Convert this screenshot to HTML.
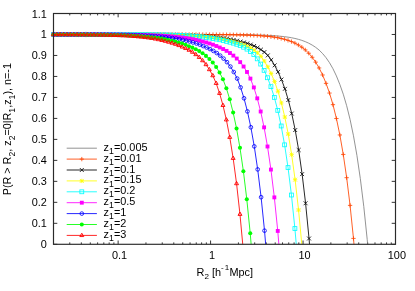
<!DOCTYPE html>
<html><head><meta charset="utf-8"><title>plot</title>
<style>
html,body{margin:0;padding:0;background:#fff;}
body{width:415px;height:291px;overflow:hidden;font-family:"Liberation Sans",sans-serif;}
svg{display:block;}
</style></head><body>
<svg width="415" height="291" viewBox="0 0 415 291" font-family="'Liberation Sans', sans-serif" font-size="10.2" fill="#000">
<rect width="415" height="291" fill="#fff"/>
<defs><filter id="b" x="0" y="0" width="415" height="291" filterUnits="userSpaceOnUse"><feGaussianBlur stdDeviation="0.5"/></filter></defs>
<g filter="url(#b)">
<path d="M53.5 244.3h3.8M395.5 244.3h-3.8M53.5 223.32h3.8M395.5 223.32h-3.8M53.5 202.34h3.8M395.5 202.34h-3.8M53.5 181.35h3.8M395.5 181.35h-3.8M53.5 160.37h3.8M395.5 160.37h-3.8M53.5 139.39h3.8M395.5 139.39h-3.8M53.5 118.41h3.8M395.5 118.41h-3.8M53.5 97.43h3.8M395.5 97.43h-3.8M53.5 76.45h3.8M395.5 76.45h-3.8M53.5 55.46h3.8M395.5 55.46h-3.8M53.5 34.48h3.8M395.5 34.48h-3.8M53.5 13.5h3.8M395.5 13.5h-3.8M53.5 244.3v-1.9M53.5 13.5v1.9M69.78 244.3v-1.9M69.78 13.5v1.9M81.33 244.3v-1.9M81.33 13.5v1.9M90.29 244.3v-1.9M90.29 13.5v1.9M97.61 244.3v-1.9M97.61 13.5v1.9M103.8 244.3v-1.9M103.8 13.5v1.9M109.17 244.3v-1.9M109.17 13.5v1.9M113.89 244.3v-1.9M113.89 13.5v1.9M118.13 244.3v-3.8M118.13 13.5v3.8M145.96 244.3v-1.9M145.96 13.5v1.9M162.24 244.3v-1.9M162.24 13.5v1.9M173.79 244.3v-1.9M173.79 13.5v1.9M182.75 244.3v-1.9M182.75 13.5v1.9M190.07 244.3v-1.9M190.07 13.5v1.9M196.26 244.3v-1.9M196.26 13.5v1.9M201.62 244.3v-1.9M201.62 13.5v1.9M206.35 244.3v-1.9M206.35 13.5v1.9M210.58 244.3v-3.8M210.58 13.5v3.8M238.42 244.3v-1.9M238.42 13.5v1.9M254.7 244.3v-1.9M254.7 13.5v1.9M266.25 244.3v-1.9M266.25 13.5v1.9M275.21 244.3v-1.9M275.21 13.5v1.9M282.53 244.3v-1.9M282.53 13.5v1.9M288.72 244.3v-1.9M288.72 13.5v1.9M294.08 244.3v-1.9M294.08 13.5v1.9M298.81 244.3v-1.9M298.81 13.5v1.9M303.04 244.3v-3.8M303.04 13.5v3.8M330.87 244.3v-1.9M330.87 13.5v1.9M347.16 244.3v-1.9M347.16 13.5v1.9M358.71 244.3v-1.9M358.71 13.5v1.9M367.67 244.3v-1.9M367.67 13.5v1.9M374.99 244.3v-1.9M374.99 13.5v1.9M381.18 244.3v-1.9M381.18 13.5v1.9M386.54 244.3v-1.9M386.54 13.5v1.9M391.27 244.3v-1.9M391.27 13.5v1.9M395.5 244.3v-3.8M395.5 13.5v3.8" stroke="#000" stroke-width="0.8" fill="none"/>
<clipPath id="c"><rect x="53.5" y="13.5" width="342" height="231.1"/></clipPath>
<path d="M53.5 34.48L56.89 34.48L60.27 34.48L63.66 34.48L67.04 34.48L70.43 34.48L73.82 34.48L77.2 34.48L80.59 34.48L83.98 34.48L87.36 34.48L90.75 34.48L94.13 34.48L97.52 34.48L100.91 34.48L104.29 34.48L107.68 34.48L111.07 34.48L114.46 34.48L117.86 34.48L121.26 34.48L124.65 34.48L128.05 34.48L131.45 34.48L134.85 34.48L138.24 34.48L141.64 34.48L145.04 34.48L148.43 34.48L151.83 34.48L155.23 34.48L158.62 34.48L162.02 34.48L165.42 34.49L168.81 34.49L172.21 34.49L175.61 34.49L179 34.49L182.4 34.49L185.8 34.49L189.19 34.49L192.59 34.5L195.99 34.5L199.38 34.5L202.78 34.51L206.18 34.51L209.58 34.52L212.97 34.53L216.37 34.53L219.77 34.55L223.16 34.56L226.56 34.57L229.96 34.59L233.35 34.62L236.75 34.64L240.16 34.68L243.58 34.72L247 34.76L250.42 34.82L253.84 34.89L257.25 34.98L260.67 35.08L264.09 35.2L267.51 35.35L270.93 35.53L274.34 35.74L277.76 36L281.18 36.32L284.6 36.7L288.02 37.15L291.44 37.73L294.9 38.45L298.36 39.32L301.82 40.37L305.28 41.65L308.74 43.2L312.2 45.08L315.66 47.34L319.12 50.07L322.58 53.52L326.04 57.69L329.5 62.71L332.96 68.73L336.42 75.95L339.85 84.49L343.26 94.18L346.66 105.72L350.07 119.45L353.48 135.79L356.91 155.35L360.34 178.66L363.77 206.4L367.2 239.38L367.63 244.3" stroke="#808080" stroke-width="0.85" fill="none" stroke-linejoin="round"/>

<path d="M53.5 34.48L56.89 34.48L60.27 34.48L63.66 34.48L67.04 34.48L70.43 34.48L73.82 34.48L77.2 34.48L80.59 34.48L83.98 34.48L87.36 34.48L90.75 34.48L94.13 34.48L97.52 34.48L100.91 34.48L104.29 34.48L107.68 34.48L111.07 34.48L114.46 34.48L117.86 34.48L121.26 34.48L124.65 34.48L128.05 34.48L131.45 34.48L134.85 34.48L138.24 34.48L141.64 34.48L145.04 34.48L148.43 34.48L151.83 34.49L155.23 34.49L158.62 34.49L162.02 34.49L165.42 34.49L168.81 34.49L172.21 34.49L175.61 34.49L179 34.5L182.4 34.5L185.8 34.5L189.19 34.51L192.59 34.51L195.99 34.52L199.38 34.53L202.78 34.53L206.18 34.55L209.58 34.56L212.97 34.57L216.37 34.59L219.77 34.62L223.16 34.64L226.56 34.68L229.96 34.72L233.35 34.76L236.75 34.82L240.16 34.89L243.58 34.98L247 35.08L250.42 35.2L253.84 35.35L257.25 35.53L260.67 35.74L264.09 36L267.51 36.31L270.93 36.69L274.34 37.15L277.76 37.72L281.18 38.43L284.6 39.28L288.02 40.32L291.44 41.57L294.9 43.1L298.36 44.96L301.82 47.2L305.28 49.9L308.74 53.24L312.2 57.27L315.66 62.13L319.12 67.97L322.58 74.97L326.04 83.35L329.5 93.05L332.96 104.65L336.42 118.52L339.85 134.96L343.26 154.44L346.66 177.68L350.07 205.38L353.48 238.4L353.99 244.3" stroke="#ff4500" stroke-width="0.85" fill="none" stroke-linejoin="round"/>
<path d="M51.35 34.48H55.65M53.5 32.33V36.63" stroke="#ff4500" stroke-width="0.82" fill="none"/><path d="M54.74 34.48H59.04M56.89 32.33V36.63" stroke="#ff4500" stroke-width="0.82" fill="none"/><path d="M58.12 34.48H62.42M60.27 32.33V36.63" stroke="#ff4500" stroke-width="0.82" fill="none"/><path d="M61.51 34.48H65.81M63.66 32.33V36.63" stroke="#ff4500" stroke-width="0.82" fill="none"/><path d="M64.89 34.48H69.19M67.04 32.33V36.63" stroke="#ff4500" stroke-width="0.82" fill="none"/><path d="M68.28 34.48H72.58M70.43 32.33V36.63" stroke="#ff4500" stroke-width="0.82" fill="none"/><path d="M71.67 34.48H75.97M73.82 32.33V36.63" stroke="#ff4500" stroke-width="0.82" fill="none"/><path d="M75.05 34.48H79.35M77.2 32.33V36.63" stroke="#ff4500" stroke-width="0.82" fill="none"/><path d="M78.44 34.48H82.74M80.59 32.33V36.63" stroke="#ff4500" stroke-width="0.82" fill="none"/><path d="M81.83 34.48H86.13M83.98 32.33V36.63" stroke="#ff4500" stroke-width="0.82" fill="none"/><path d="M85.21 34.48H89.51M87.36 32.33V36.63" stroke="#ff4500" stroke-width="0.82" fill="none"/><path d="M88.6 34.48H92.9M90.75 32.33V36.63" stroke="#ff4500" stroke-width="0.82" fill="none"/><path d="M91.98 34.48H96.28M94.13 32.33V36.63" stroke="#ff4500" stroke-width="0.82" fill="none"/><path d="M95.37 34.48H99.67M97.52 32.33V36.63" stroke="#ff4500" stroke-width="0.82" fill="none"/><path d="M98.76 34.48H103.06M100.91 32.33V36.63" stroke="#ff4500" stroke-width="0.82" fill="none"/><path d="M102.14 34.48H106.44M104.29 32.33V36.63" stroke="#ff4500" stroke-width="0.82" fill="none"/><path d="M105.53 34.48H109.83M107.68 32.33V36.63" stroke="#ff4500" stroke-width="0.82" fill="none"/><path d="M108.92 34.48H113.22M111.07 32.33V36.63" stroke="#ff4500" stroke-width="0.82" fill="none"/><path d="M112.31 34.48H116.61M114.46 32.33V36.63" stroke="#ff4500" stroke-width="0.82" fill="none"/><path d="M115.71 34.48H120.01M117.86 32.33V36.63" stroke="#ff4500" stroke-width="0.82" fill="none"/><path d="M119.11 34.48H123.41M121.26 32.33V36.63" stroke="#ff4500" stroke-width="0.82" fill="none"/><path d="M122.5 34.48H126.8M124.65 32.33V36.63" stroke="#ff4500" stroke-width="0.82" fill="none"/><path d="M125.9 34.48H130.2M128.05 32.33V36.63" stroke="#ff4500" stroke-width="0.82" fill="none"/><path d="M129.3 34.48H133.6M131.45 32.33V36.63" stroke="#ff4500" stroke-width="0.82" fill="none"/><path d="M132.7 34.48H137M134.85 32.33V36.63" stroke="#ff4500" stroke-width="0.82" fill="none"/><path d="M136.09 34.48H140.39M138.24 32.33V36.63" stroke="#ff4500" stroke-width="0.82" fill="none"/><path d="M139.49 34.48H143.79M141.64 32.33V36.63" stroke="#ff4500" stroke-width="0.82" fill="none"/><path d="M142.89 34.48H147.19M145.04 32.33V36.63" stroke="#ff4500" stroke-width="0.82" fill="none"/><path d="M146.28 34.48H150.58M148.43 32.33V36.63" stroke="#ff4500" stroke-width="0.82" fill="none"/><path d="M149.68 34.49H153.98M151.83 32.34V36.64" stroke="#ff4500" stroke-width="0.82" fill="none"/><path d="M153.08 34.49H157.38M155.23 32.34V36.64" stroke="#ff4500" stroke-width="0.82" fill="none"/><path d="M156.47 34.49H160.77M158.62 32.34V36.64" stroke="#ff4500" stroke-width="0.82" fill="none"/><path d="M159.87 34.49H164.17M162.02 32.34V36.64" stroke="#ff4500" stroke-width="0.82" fill="none"/><path d="M163.27 34.49H167.57M165.42 32.34V36.64" stroke="#ff4500" stroke-width="0.82" fill="none"/><path d="M166.66 34.49H170.96M168.81 32.34V36.64" stroke="#ff4500" stroke-width="0.82" fill="none"/><path d="M170.06 34.49H174.36M172.21 32.34V36.64" stroke="#ff4500" stroke-width="0.82" fill="none"/><path d="M173.46 34.49H177.76M175.61 32.34V36.64" stroke="#ff4500" stroke-width="0.82" fill="none"/><path d="M176.85 34.5H181.15M179 32.35V36.65" stroke="#ff4500" stroke-width="0.82" fill="none"/><path d="M180.25 34.5H184.55M182.4 32.35V36.65" stroke="#ff4500" stroke-width="0.82" fill="none"/><path d="M183.65 34.5H187.95M185.8 32.35V36.65" stroke="#ff4500" stroke-width="0.82" fill="none"/><path d="M187.04 34.51H191.34M189.19 32.36V36.66" stroke="#ff4500" stroke-width="0.82" fill="none"/><path d="M190.44 34.51H194.74M192.59 32.36V36.66" stroke="#ff4500" stroke-width="0.82" fill="none"/><path d="M193.84 34.52H198.14M195.99 32.37V36.67" stroke="#ff4500" stroke-width="0.82" fill="none"/><path d="M197.23 34.53H201.53M199.38 32.38V36.68" stroke="#ff4500" stroke-width="0.82" fill="none"/><path d="M200.63 34.53H204.93M202.78 32.38V36.68" stroke="#ff4500" stroke-width="0.82" fill="none"/><path d="M204.03 34.55H208.33M206.18 32.4V36.7" stroke="#ff4500" stroke-width="0.82" fill="none"/><path d="M207.43 34.56H211.73M209.58 32.41V36.71" stroke="#ff4500" stroke-width="0.82" fill="none"/><path d="M210.82 34.57H215.12M212.97 32.42V36.72" stroke="#ff4500" stroke-width="0.82" fill="none"/><path d="M214.22 34.59H218.52M216.37 32.44V36.74" stroke="#ff4500" stroke-width="0.82" fill="none"/><path d="M217.62 34.62H221.92M219.77 32.47V36.77" stroke="#ff4500" stroke-width="0.82" fill="none"/><path d="M221.01 34.64H225.31M223.16 32.49V36.79" stroke="#ff4500" stroke-width="0.82" fill="none"/><path d="M224.41 34.68H228.71M226.56 32.53V36.83" stroke="#ff4500" stroke-width="0.82" fill="none"/><path d="M227.81 34.72H232.11M229.96 32.57V36.87" stroke="#ff4500" stroke-width="0.82" fill="none"/><path d="M231.2 34.76H235.5M233.35 32.61V36.91" stroke="#ff4500" stroke-width="0.82" fill="none"/><path d="M234.6 34.82H238.9M236.75 32.67V36.97" stroke="#ff4500" stroke-width="0.82" fill="none"/><path d="M238.01 34.89H242.31M240.16 32.74V37.04" stroke="#ff4500" stroke-width="0.82" fill="none"/><path d="M241.43 34.98H245.73M243.58 32.83V37.13" stroke="#ff4500" stroke-width="0.82" fill="none"/><path d="M244.85 35.08H249.15M247 32.93V37.23" stroke="#ff4500" stroke-width="0.82" fill="none"/><path d="M248.27 35.2H252.57M250.42 33.05V37.35" stroke="#ff4500" stroke-width="0.82" fill="none"/><path d="M251.69 35.35H255.99M253.84 33.2V37.5" stroke="#ff4500" stroke-width="0.82" fill="none"/><path d="M255.1 35.53H259.4M257.25 33.38V37.68" stroke="#ff4500" stroke-width="0.82" fill="none"/><path d="M258.52 35.74H262.82M260.67 33.59V37.89" stroke="#ff4500" stroke-width="0.82" fill="none"/><path d="M261.94 36H266.24M264.09 33.85V38.15" stroke="#ff4500" stroke-width="0.82" fill="none"/><path d="M265.36 36.31H269.66M267.51 34.16V38.46" stroke="#ff4500" stroke-width="0.82" fill="none"/><path d="M268.78 36.69H273.08M270.93 34.54V38.84" stroke="#ff4500" stroke-width="0.82" fill="none"/><path d="M272.19 37.15H276.49M274.34 35V39.3" stroke="#ff4500" stroke-width="0.82" fill="none"/><path d="M275.61 37.72H279.91M277.76 35.57V39.87" stroke="#ff4500" stroke-width="0.82" fill="none"/><path d="M279.03 38.43H283.33M281.18 36.28V40.58" stroke="#ff4500" stroke-width="0.82" fill="none"/><path d="M282.45 39.28H286.75M284.6 37.13V41.43" stroke="#ff4500" stroke-width="0.82" fill="none"/><path d="M285.87 40.32H290.17M288.02 38.17V42.47" stroke="#ff4500" stroke-width="0.82" fill="none"/><path d="M289.29 41.57H293.59M291.44 39.42V43.72" stroke="#ff4500" stroke-width="0.82" fill="none"/><path d="M292.75 43.1H297.05M294.9 40.95V45.25" stroke="#ff4500" stroke-width="0.82" fill="none"/><path d="M296.21 44.96H300.51M298.36 42.81V47.11" stroke="#ff4500" stroke-width="0.82" fill="none"/><path d="M299.67 47.2H303.97M301.82 45.05V49.35" stroke="#ff4500" stroke-width="0.82" fill="none"/><path d="M303.13 49.9H307.43M305.28 47.75V52.05" stroke="#ff4500" stroke-width="0.82" fill="none"/><path d="M306.59 53.24H310.89M308.74 51.09V55.39" stroke="#ff4500" stroke-width="0.82" fill="none"/><path d="M310.05 57.27H314.35M312.2 55.12V59.42" stroke="#ff4500" stroke-width="0.82" fill="none"/><path d="M313.51 62.13H317.81M315.66 59.98V64.28" stroke="#ff4500" stroke-width="0.82" fill="none"/><path d="M316.97 67.97H321.27M319.12 65.82V70.12" stroke="#ff4500" stroke-width="0.82" fill="none"/><path d="M320.43 74.97H324.73M322.58 72.82V77.12" stroke="#ff4500" stroke-width="0.82" fill="none"/><path d="M323.89 83.35H328.19M326.04 81.2V85.5" stroke="#ff4500" stroke-width="0.82" fill="none"/><path d="M327.35 93.05H331.65M329.5 90.9V95.2" stroke="#ff4500" stroke-width="0.82" fill="none"/><path d="M330.81 104.65H335.11M332.96 102.5V106.8" stroke="#ff4500" stroke-width="0.82" fill="none"/><path d="M334.27 118.52H338.57M336.42 116.37V120.67" stroke="#ff4500" stroke-width="0.82" fill="none"/><path d="M337.7 134.96H342M339.85 132.81V137.11" stroke="#ff4500" stroke-width="0.82" fill="none"/><path d="M341.11 154.44H345.41M343.26 152.29V156.59" stroke="#ff4500" stroke-width="0.82" fill="none"/><path d="M344.51 177.68H348.81M346.66 175.53V179.83" stroke="#ff4500" stroke-width="0.82" fill="none"/><path d="M347.92 205.38H352.22M350.07 203.23V207.53" stroke="#ff4500" stroke-width="0.82" fill="none"/><path d="M351.33 238.4H355.63M353.48 236.25V240.55" stroke="#ff4500" stroke-width="0.82" fill="none"/>
<path d="M53.8 34.48L57.19 34.48L60.57 34.48L63.96 34.48L67.34 34.48L70.73 34.49L74.12 34.49L77.5 34.49L80.89 34.49L84.28 34.49L87.66 34.49L91.05 34.49L94.43 34.49L97.82 34.49L101.21 34.5L104.59 34.5L107.98 34.5L111.37 34.5L114.76 34.51L118.16 34.51L121.56 34.52L124.95 34.52L128.35 34.53L131.75 34.54L135.15 34.55L138.54 34.56L141.94 34.57L145.34 34.59L148.73 34.61L152.13 34.63L155.53 34.66L158.92 34.69L162.32 34.72L165.72 34.76L169.11 34.81L172.51 34.86L175.91 34.92L179.3 34.99L182.7 35.07L186.1 35.16L189.49 35.27L192.89 35.4L196.29 35.55L199.68 35.72L203.08 35.92L206.48 36.16L209.88 36.43L213.27 36.75L216.67 37.13L220.07 37.57L223.46 38.08L226.86 38.68L230.26 39.27L233.65 39.92L237.05 40.68L240.46 41.57L243.88 42.42L247.3 43.4L250.72 44.56L254.14 45.95L257.55 47.6L260.97 49.63L264.39 52.08L267.81 55.41L271.23 59.91L274.64 65.34L278.06 71.86L281.48 79.55L284.9 88.84L288.32 100.03L291.74 113.56L295.2 130.06L298.66 150.01L302.12 174.13L305.58 203.27L309.04 238.5L309.51 244.3" stroke="#000000" stroke-width="0.85" fill="none" stroke-linejoin="round"/>
<path d="M51.86 32.55L55.73 36.42M51.86 36.42L55.73 32.55" stroke="#000000" stroke-width="0.82" fill="none"/><path d="M55.25 32.55L59.12 36.42M55.25 36.42L59.12 32.55" stroke="#000000" stroke-width="0.82" fill="none"/><path d="M58.64 32.55L62.51 36.42M58.64 36.42L62.51 32.55" stroke="#000000" stroke-width="0.82" fill="none"/><path d="M62.02 32.55L65.89 36.42M62.02 36.42L65.89 32.55" stroke="#000000" stroke-width="0.82" fill="none"/><path d="M65.41 32.55L69.28 36.42M65.41 36.42L69.28 32.55" stroke="#000000" stroke-width="0.82" fill="none"/><path d="M68.8 32.55L72.67 36.42M68.8 36.42L72.67 32.55" stroke="#000000" stroke-width="0.82" fill="none"/><path d="M72.18 32.55L76.05 36.42M72.18 36.42L76.05 32.55" stroke="#000000" stroke-width="0.82" fill="none"/><path d="M75.57 32.55L79.44 36.42M75.57 36.42L79.44 32.55" stroke="#000000" stroke-width="0.82" fill="none"/><path d="M78.95 32.55L82.82 36.42M78.95 36.42L82.82 32.55" stroke="#000000" stroke-width="0.82" fill="none"/><path d="M82.34 32.55L86.21 36.42M82.34 36.42L86.21 32.55" stroke="#000000" stroke-width="0.82" fill="none"/><path d="M85.73 32.55L89.6 36.42M85.73 36.42L89.6 32.55" stroke="#000000" stroke-width="0.82" fill="none"/><path d="M89.11 32.56L92.98 36.43M89.11 36.43L92.98 32.56" stroke="#000000" stroke-width="0.82" fill="none"/><path d="M92.5 32.56L96.37 36.43M92.5 36.43L96.37 32.56" stroke="#000000" stroke-width="0.82" fill="none"/><path d="M95.88 32.56L99.75 36.43M95.88 36.43L99.75 32.56" stroke="#000000" stroke-width="0.82" fill="none"/><path d="M99.27 32.56L103.14 36.43M99.27 36.43L103.14 32.56" stroke="#000000" stroke-width="0.82" fill="none"/><path d="M102.66 32.56L106.53 36.43M102.66 36.43L106.53 32.56" stroke="#000000" stroke-width="0.82" fill="none"/><path d="M106.04 32.57L109.91 36.44M106.04 36.44L109.91 32.57" stroke="#000000" stroke-width="0.82" fill="none"/><path d="M109.43 32.57L113.3 36.44M109.43 36.44L113.3 32.57" stroke="#000000" stroke-width="0.82" fill="none"/><path d="M112.83 32.57L116.7 36.44M112.83 36.44L116.7 32.57" stroke="#000000" stroke-width="0.82" fill="none"/><path d="M116.23 32.58L120.1 36.45M116.23 36.45L120.1 32.58" stroke="#000000" stroke-width="0.82" fill="none"/><path d="M119.62 32.58L123.49 36.45M119.62 36.45L123.49 32.58" stroke="#000000" stroke-width="0.82" fill="none"/><path d="M123.02 32.59L126.89 36.46M123.02 36.46L126.89 32.59" stroke="#000000" stroke-width="0.82" fill="none"/><path d="M126.42 32.6L130.29 36.47M126.42 36.47L130.29 32.6" stroke="#000000" stroke-width="0.82" fill="none"/><path d="M129.81 32.6L133.68 36.47M129.81 36.47L133.68 32.6" stroke="#000000" stroke-width="0.82" fill="none"/><path d="M133.21 32.61L137.08 36.48M133.21 36.48L137.08 32.61" stroke="#000000" stroke-width="0.82" fill="none"/><path d="M136.61 32.63L140.48 36.5M136.61 36.5L140.48 32.63" stroke="#000000" stroke-width="0.82" fill="none"/><path d="M140 32.64L143.87 36.51M140 36.51L143.87 32.64" stroke="#000000" stroke-width="0.82" fill="none"/><path d="M143.4 32.66L147.27 36.53M143.4 36.53L147.27 32.66" stroke="#000000" stroke-width="0.82" fill="none"/><path d="M146.8 32.67L150.67 36.54M146.8 36.54L150.67 32.67" stroke="#000000" stroke-width="0.82" fill="none"/><path d="M150.19 32.7L154.06 36.57M150.19 36.57L154.06 32.7" stroke="#000000" stroke-width="0.82" fill="none"/><path d="M153.59 32.72L157.46 36.59M153.59 36.59L157.46 32.72" stroke="#000000" stroke-width="0.82" fill="none"/><path d="M156.99 32.75L160.86 36.62M156.99 36.62L160.86 32.75" stroke="#000000" stroke-width="0.82" fill="none"/><path d="M160.38 32.78L164.25 36.65M160.38 36.65L164.25 32.78" stroke="#000000" stroke-width="0.82" fill="none"/><path d="M163.78 32.82L167.65 36.69M163.78 36.69L167.65 32.82" stroke="#000000" stroke-width="0.82" fill="none"/><path d="M167.18 32.87L171.05 36.74M167.18 36.74L171.05 32.87" stroke="#000000" stroke-width="0.82" fill="none"/><path d="M170.58 32.92L174.45 36.79M170.58 36.79L174.45 32.92" stroke="#000000" stroke-width="0.82" fill="none"/><path d="M173.97 32.98L177.84 36.85M173.97 36.85L177.84 32.98" stroke="#000000" stroke-width="0.82" fill="none"/><path d="M177.37 33.05L181.24 36.92M177.37 36.92L181.24 33.05" stroke="#000000" stroke-width="0.82" fill="none"/><path d="M180.77 33.13L184.64 37M180.77 37L184.64 33.13" stroke="#000000" stroke-width="0.82" fill="none"/><path d="M184.16 33.23L188.03 37.1M184.16 37.1L188.03 33.23" stroke="#000000" stroke-width="0.82" fill="none"/><path d="M187.56 33.34L191.43 37.21M187.56 37.21L191.43 33.34" stroke="#000000" stroke-width="0.82" fill="none"/><path d="M190.96 33.46L194.83 37.33M190.96 37.33L194.83 33.46" stroke="#000000" stroke-width="0.82" fill="none"/><path d="M194.35 33.61L198.22 37.48M194.35 37.48L198.22 33.61" stroke="#000000" stroke-width="0.82" fill="none"/><path d="M197.75 33.78L201.62 37.65M197.75 37.65L201.62 33.78" stroke="#000000" stroke-width="0.82" fill="none"/><path d="M201.15 33.99L205.02 37.86M201.15 37.86L205.02 33.99" stroke="#000000" stroke-width="0.82" fill="none"/><path d="M204.54 34.22L208.41 38.09M204.54 38.09L208.41 34.22" stroke="#000000" stroke-width="0.82" fill="none"/><path d="M207.94 34.5L211.81 38.37M207.94 38.37L211.81 34.5" stroke="#000000" stroke-width="0.82" fill="none"/><path d="M211.34 34.82L215.21 38.69M211.34 38.69L215.21 34.82" stroke="#000000" stroke-width="0.82" fill="none"/><path d="M214.73 35.19L218.6 39.06M214.73 39.06L218.6 35.19" stroke="#000000" stroke-width="0.82" fill="none"/><path d="M218.13 35.63L222 39.5M218.13 39.5L222 35.63" stroke="#000000" stroke-width="0.82" fill="none"/><path d="M221.53 36.14L225.4 40.01M221.53 40.01L225.4 36.14" stroke="#000000" stroke-width="0.82" fill="none"/><path d="M224.92 36.75L228.79 40.62M224.92 40.62L228.79 36.75" stroke="#000000" stroke-width="0.82" fill="none"/><path d="M228.32 37.34L232.19 41.21M228.32 41.21L232.19 37.34" stroke="#000000" stroke-width="0.82" fill="none"/><path d="M231.72 37.99L235.59 41.86M231.72 41.86L235.59 37.99" stroke="#000000" stroke-width="0.82" fill="none"/><path d="M235.11 38.75L238.98 42.62M235.11 42.62L238.98 38.75" stroke="#000000" stroke-width="0.82" fill="none"/><path d="M238.53 39.64L242.4 43.51M238.53 43.51L242.4 39.64" stroke="#000000" stroke-width="0.82" fill="none"/><path d="M241.95 40.48L245.82 44.35M241.95 44.35L245.82 40.48" stroke="#000000" stroke-width="0.82" fill="none"/><path d="M245.36 41.47L249.23 45.34M245.36 45.34L249.23 41.47" stroke="#000000" stroke-width="0.82" fill="none"/><path d="M248.78 42.63L252.65 46.5M248.78 46.5L252.65 42.63" stroke="#000000" stroke-width="0.82" fill="none"/><path d="M252.2 44.01L256.07 47.88M252.2 47.88L256.07 44.01" stroke="#000000" stroke-width="0.82" fill="none"/><path d="M255.62 45.66L259.49 49.53M255.62 49.53L259.49 45.66" stroke="#000000" stroke-width="0.82" fill="none"/><path d="M259.04 47.69L262.91 51.56M259.04 51.56L262.91 47.69" stroke="#000000" stroke-width="0.82" fill="none"/><path d="M262.46 50.15L266.33 54.02M262.46 54.02L266.33 50.15" stroke="#000000" stroke-width="0.82" fill="none"/><path d="M265.87 53.48L269.74 57.35M265.87 57.35L269.74 53.48" stroke="#000000" stroke-width="0.82" fill="none"/><path d="M269.29 57.97L273.16 61.84M269.29 61.84L273.16 57.97" stroke="#000000" stroke-width="0.82" fill="none"/><path d="M272.71 63.4L276.58 67.27M272.71 67.27L276.58 63.4" stroke="#000000" stroke-width="0.82" fill="none"/><path d="M276.13 69.92L280 73.79M276.13 73.79L280 69.92" stroke="#000000" stroke-width="0.82" fill="none"/><path d="M279.55 77.62L283.42 81.49M279.55 81.49L283.42 77.62" stroke="#000000" stroke-width="0.82" fill="none"/><path d="M282.96 86.9L286.83 90.77M282.96 90.77L286.83 86.9" stroke="#000000" stroke-width="0.82" fill="none"/><path d="M286.38 98.1L290.25 101.97M286.38 101.97L290.25 98.1" stroke="#000000" stroke-width="0.82" fill="none"/><path d="M289.81 111.62L293.68 115.49M289.81 115.49L293.68 111.62" stroke="#000000" stroke-width="0.82" fill="none"/><path d="M293.27 128.13L297.14 132M293.27 132L297.14 128.13" stroke="#000000" stroke-width="0.82" fill="none"/><path d="M296.73 148.08L300.6 151.95M296.73 151.95L300.6 148.08" stroke="#000000" stroke-width="0.82" fill="none"/><path d="M300.19 172.19L304.06 176.06M300.19 176.06L304.06 172.19" stroke="#000000" stroke-width="0.82" fill="none"/><path d="M303.65 201.34L307.52 205.21M303.65 205.21L307.52 201.34" stroke="#000000" stroke-width="0.82" fill="none"/><path d="M307.1 236.57L310.97 240.44M307.1 240.44L310.97 236.57" stroke="#000000" stroke-width="0.82" fill="none"/>
<path d="M53.7 34.48L57.09 34.48L60.47 34.48L63.86 34.49L67.24 34.49L70.63 34.49L74.02 34.49L77.4 34.49L80.79 34.49L84.18 34.49L87.56 34.49L90.95 34.49L94.33 34.5L97.72 34.5L101.11 34.5L104.49 34.51L107.88 34.51L111.27 34.51L114.66 34.52L118.06 34.53L121.46 34.53L124.85 34.54L128.25 34.55L131.65 34.56L135.05 34.58L138.44 34.59L141.84 34.61L145.24 34.64L148.63 34.66L152.03 34.69L155.43 34.73L158.82 34.77L162.22 34.82L165.62 34.87L169.01 34.93L172.41 35.01L175.81 35.09L179.2 35.19L182.6 35.3L186 35.43L189.39 35.59L192.79 35.77L196.19 35.98L199.58 36.22L202.98 36.51L206.38 36.84L209.78 37.23L213.17 37.69L216.57 38.22L219.97 38.84L223.36 39.42L226.76 40.1L230.16 40.89L233.55 41.77L236.95 42.63L240.36 43.65L243.78 44.87L247.2 46.31L250.62 48.02L254.04 50.16L257.45 52.73L260.87 56.39L264.29 61.08L267.71 66.76L271.13 73.52L274.54 81.56L277.96 91.26L281.38 102.96L284.8 117.06L288.22 134.07L291.64 154.62L295.1 179.69L298.56 210L301.8 244.3" stroke="#ffff00" stroke-width="0.85" fill="none" stroke-linejoin="round"/>
<path d="M51.55 34.48H55.85M53.7 32.33V36.63M51.77 32.55L55.64 36.42M51.77 36.42L55.64 32.55" stroke="#ffff00" stroke-width="0.82" fill="none"/><path d="M54.94 34.48H59.24M57.09 32.33V36.63M55.15 32.55L59.02 36.42M55.15 36.42L59.02 32.55" stroke="#ffff00" stroke-width="0.82" fill="none"/><path d="M58.32 34.48H62.62M60.47 32.33V36.63M58.54 32.55L62.41 36.42M58.54 36.42L62.41 32.55" stroke="#ffff00" stroke-width="0.82" fill="none"/><path d="M61.71 34.49H66.01M63.86 32.34V36.64M61.92 32.55L65.79 36.42M61.92 36.42L65.79 32.55" stroke="#ffff00" stroke-width="0.82" fill="none"/><path d="M65.09 34.49H69.39M67.24 32.34V36.64M65.31 32.55L69.18 36.42M65.31 36.42L69.18 32.55" stroke="#ffff00" stroke-width="0.82" fill="none"/><path d="M68.48 34.49H72.78M70.63 32.34V36.64M68.7 32.55L72.57 36.42M68.7 36.42L72.57 32.55" stroke="#ffff00" stroke-width="0.82" fill="none"/><path d="M71.87 34.49H76.17M74.02 32.34V36.64M72.08 32.55L75.95 36.42M72.08 36.42L75.95 32.55" stroke="#ffff00" stroke-width="0.82" fill="none"/><path d="M75.25 34.49H79.55M77.4 32.34V36.64M75.47 32.55L79.34 36.42M75.47 36.42L79.34 32.55" stroke="#ffff00" stroke-width="0.82" fill="none"/><path d="M78.64 34.49H82.94M80.79 32.34V36.64M78.85 32.55L82.72 36.42M78.85 36.42L82.72 32.55" stroke="#ffff00" stroke-width="0.82" fill="none"/><path d="M82.03 34.49H86.33M84.18 32.34V36.64M82.24 32.56L86.11 36.43M82.24 36.43L86.11 32.56" stroke="#ffff00" stroke-width="0.82" fill="none"/><path d="M85.41 34.49H89.71M87.56 32.34V36.64M85.63 32.56L89.5 36.43M85.63 36.43L89.5 32.56" stroke="#ffff00" stroke-width="0.82" fill="none"/><path d="M88.8 34.49H93.1M90.95 32.34V36.64M89.01 32.56L92.88 36.43M89.01 36.43L92.88 32.56" stroke="#ffff00" stroke-width="0.82" fill="none"/><path d="M92.18 34.5H96.48M94.33 32.35V36.65M92.4 32.56L96.27 36.43M92.4 36.43L96.27 32.56" stroke="#ffff00" stroke-width="0.82" fill="none"/><path d="M95.57 34.5H99.87M97.72 32.35V36.65M95.78 32.56L99.65 36.43M95.78 36.43L99.65 32.56" stroke="#ffff00" stroke-width="0.82" fill="none"/><path d="M98.96 34.5H103.26M101.11 32.35V36.65M99.17 32.57L103.04 36.44M99.17 36.44L103.04 32.57" stroke="#ffff00" stroke-width="0.82" fill="none"/><path d="M102.34 34.51H106.64M104.49 32.36V36.66M102.56 32.57L106.43 36.44M102.56 36.44L106.43 32.57" stroke="#ffff00" stroke-width="0.82" fill="none"/><path d="M105.73 34.51H110.03M107.88 32.36V36.66M105.94 32.57L109.81 36.44M105.94 36.44L109.81 32.57" stroke="#ffff00" stroke-width="0.82" fill="none"/><path d="M109.12 34.51H113.42M111.27 32.36V36.66M109.33 32.58L113.2 36.45M109.33 36.45L113.2 32.58" stroke="#ffff00" stroke-width="0.82" fill="none"/><path d="M112.51 34.52H116.81M114.66 32.37V36.67M112.73 32.58L116.6 36.45M112.73 36.45L116.6 32.58" stroke="#ffff00" stroke-width="0.82" fill="none"/><path d="M115.91 34.53H120.21M118.06 32.38V36.68M116.13 32.59L120 36.46M116.13 36.46L120 32.59" stroke="#ffff00" stroke-width="0.82" fill="none"/><path d="M119.31 34.53H123.61M121.46 32.38V36.68M119.52 32.6L123.39 36.47M119.52 36.47L123.39 32.6" stroke="#ffff00" stroke-width="0.82" fill="none"/><path d="M122.7 34.54H127M124.85 32.39V36.69M122.92 32.61L126.79 36.48M122.92 36.48L126.79 32.61" stroke="#ffff00" stroke-width="0.82" fill="none"/><path d="M126.1 34.55H130.4M128.25 32.4V36.7M126.32 32.62L130.19 36.49M126.32 36.49L130.19 32.62" stroke="#ffff00" stroke-width="0.82" fill="none"/><path d="M129.5 34.56H133.8M131.65 32.41V36.71M129.71 32.63L133.58 36.5M129.71 36.5L133.58 32.63" stroke="#ffff00" stroke-width="0.82" fill="none"/><path d="M132.9 34.58H137.2M135.05 32.43V36.73M133.11 32.64L136.98 36.51M133.11 36.51L136.98 32.64" stroke="#ffff00" stroke-width="0.82" fill="none"/><path d="M136.29 34.59H140.59M138.44 32.44V36.74M136.51 32.66L140.38 36.53M136.51 36.53L140.38 32.66" stroke="#ffff00" stroke-width="0.82" fill="none"/><path d="M139.69 34.61H143.99M141.84 32.46V36.76M139.9 32.68L143.77 36.55M139.9 36.55L143.77 32.68" stroke="#ffff00" stroke-width="0.82" fill="none"/><path d="M143.09 34.64H147.39M145.24 32.49V36.79M143.3 32.7L147.17 36.57M143.3 36.57L147.17 32.7" stroke="#ffff00" stroke-width="0.82" fill="none"/><path d="M146.48 34.66H150.78M148.63 32.51V36.81M146.7 32.73L150.57 36.6M146.7 36.6L150.57 32.73" stroke="#ffff00" stroke-width="0.82" fill="none"/><path d="M149.88 34.69H154.18M152.03 32.54V36.84M150.09 32.76L153.96 36.63M150.09 36.63L153.96 32.76" stroke="#ffff00" stroke-width="0.82" fill="none"/><path d="M153.28 34.73H157.58M155.43 32.58V36.88M153.49 32.79L157.36 36.66M153.49 36.66L157.36 32.79" stroke="#ffff00" stroke-width="0.82" fill="none"/><path d="M156.67 34.77H160.97M158.82 32.62V36.92M156.89 32.84L160.76 36.71M156.89 36.71L160.76 32.84" stroke="#ffff00" stroke-width="0.82" fill="none"/><path d="M160.07 34.82H164.37M162.22 32.67V36.97M160.28 32.88L164.15 36.75M160.28 36.75L164.15 32.88" stroke="#ffff00" stroke-width="0.82" fill="none"/><path d="M163.47 34.87H167.77M165.62 32.72V37.02M163.68 32.94L167.55 36.81M163.68 36.81L167.55 32.94" stroke="#ffff00" stroke-width="0.82" fill="none"/><path d="M166.86 34.93H171.16M169.01 32.78V37.08M167.08 33L170.95 36.87M167.08 36.87L170.95 33" stroke="#ffff00" stroke-width="0.82" fill="none"/><path d="M170.26 35.01H174.56M172.41 32.86V37.16M170.48 33.07L174.35 36.94M170.48 36.94L174.35 33.07" stroke="#ffff00" stroke-width="0.82" fill="none"/><path d="M173.66 35.09H177.96M175.81 32.94V37.24M173.87 33.15L177.74 37.02M173.87 37.02L177.74 33.15" stroke="#ffff00" stroke-width="0.82" fill="none"/><path d="M177.05 35.19H181.35M179.2 33.04V37.34M177.27 33.25L181.14 37.12M177.27 37.12L181.14 33.25" stroke="#ffff00" stroke-width="0.82" fill="none"/><path d="M180.45 35.3H184.75M182.6 33.15V37.45M180.67 33.36L184.54 37.23M180.67 37.23L184.54 33.36" stroke="#ffff00" stroke-width="0.82" fill="none"/><path d="M183.85 35.43H188.15M186 33.28V37.58M184.06 33.5L187.93 37.37M184.06 37.37L187.93 33.5" stroke="#ffff00" stroke-width="0.82" fill="none"/><path d="M187.24 35.59H191.54M189.39 33.44V37.74M187.46 33.65L191.33 37.52M187.46 37.52L191.33 33.65" stroke="#ffff00" stroke-width="0.82" fill="none"/><path d="M190.64 35.77H194.94M192.79 33.62V37.92M190.86 33.83L194.73 37.7M190.86 37.7L194.73 33.83" stroke="#ffff00" stroke-width="0.82" fill="none"/><path d="M194.04 35.98H198.34M196.19 33.83V38.13M194.25 34.04L198.12 37.91M194.25 37.91L198.12 34.04" stroke="#ffff00" stroke-width="0.82" fill="none"/><path d="M197.43 36.22H201.73M199.58 34.07V38.37M197.65 34.28L201.52 38.15M197.65 38.15L201.52 34.28" stroke="#ffff00" stroke-width="0.82" fill="none"/><path d="M200.83 36.51H205.13M202.98 34.36V38.66M201.05 34.57L204.92 38.44M201.05 38.44L204.92 34.57" stroke="#ffff00" stroke-width="0.82" fill="none"/><path d="M204.23 36.84H208.53M206.38 34.69V38.99M204.44 34.9L208.31 38.77M204.44 38.77L208.31 34.9" stroke="#ffff00" stroke-width="0.82" fill="none"/><path d="M207.63 37.23H211.93M209.78 35.08V39.38M207.84 35.29L211.71 39.16M207.84 39.16L211.71 35.29" stroke="#ffff00" stroke-width="0.82" fill="none"/><path d="M211.02 37.69H215.32M213.17 35.54V39.84M211.24 35.75L215.11 39.62M211.24 39.62L215.11 35.75" stroke="#ffff00" stroke-width="0.82" fill="none"/><path d="M214.42 38.22H218.72M216.57 36.07V40.37M214.63 36.28L218.5 40.15M214.63 40.15L218.5 36.28" stroke="#ffff00" stroke-width="0.82" fill="none"/><path d="M217.82 38.84H222.12M219.97 36.69V40.99M218.03 36.91L221.9 40.78M218.03 40.78L221.9 36.91" stroke="#ffff00" stroke-width="0.82" fill="none"/><path d="M221.21 39.42H225.51M223.36 37.27V41.57M221.43 37.49L225.3 41.36M221.43 41.36L225.3 37.49" stroke="#ffff00" stroke-width="0.82" fill="none"/><path d="M224.61 40.1H228.91M226.76 37.95V42.25M224.82 38.16L228.69 42.03M224.82 42.03L228.69 38.16" stroke="#ffff00" stroke-width="0.82" fill="none"/><path d="M228.01 40.89H232.31M230.16 38.74V43.04M228.22 38.95L232.09 42.82M228.22 42.82L232.09 38.95" stroke="#ffff00" stroke-width="0.82" fill="none"/><path d="M231.4 41.77H235.7M233.55 39.62V43.92M231.62 39.84L235.49 43.71M231.62 43.71L235.49 39.84" stroke="#ffff00" stroke-width="0.82" fill="none"/><path d="M234.8 42.63H239.1M236.95 40.48V44.78M235.01 40.7L238.88 44.57M235.01 44.57L238.88 40.7" stroke="#ffff00" stroke-width="0.82" fill="none"/><path d="M238.21 43.65H242.51M240.36 41.5V45.8M238.43 41.72L242.3 45.59M238.43 45.59L242.3 41.72" stroke="#ffff00" stroke-width="0.82" fill="none"/><path d="M241.63 44.87H245.93M243.78 42.72V47.02M241.85 42.93L245.72 46.8M241.85 46.8L245.72 42.93" stroke="#ffff00" stroke-width="0.82" fill="none"/><path d="M245.05 46.31H249.35M247.2 44.16V48.46M245.26 44.37L249.13 48.24M245.26 48.24L249.13 44.37" stroke="#ffff00" stroke-width="0.82" fill="none"/><path d="M248.47 48.02H252.77M250.62 45.87V50.17M248.68 46.09L252.55 49.96M248.68 49.96L252.55 46.09" stroke="#ffff00" stroke-width="0.82" fill="none"/><path d="M251.89 50.16H256.19M254.04 48.01V52.31M252.1 48.22L255.97 52.09M252.1 52.09L255.97 48.22" stroke="#ffff00" stroke-width="0.82" fill="none"/><path d="M255.3 52.73H259.6M257.45 50.58V54.88M255.52 50.79L259.39 54.66M255.52 54.66L259.39 50.79" stroke="#ffff00" stroke-width="0.82" fill="none"/><path d="M258.72 56.39H263.02M260.87 54.24V58.54M258.94 54.45L262.81 58.32M258.94 58.32L262.81 54.45" stroke="#ffff00" stroke-width="0.82" fill="none"/><path d="M262.14 61.08H266.44M264.29 58.93V63.23M262.36 59.15L266.23 63.02M262.36 63.02L266.23 59.15" stroke="#ffff00" stroke-width="0.82" fill="none"/><path d="M265.56 66.76H269.86M267.71 64.61V68.91M265.77 64.82L269.64 68.69M265.77 68.69L269.64 64.82" stroke="#ffff00" stroke-width="0.82" fill="none"/><path d="M268.98 73.52H273.28M271.13 71.37V75.67M269.19 71.59L273.06 75.46M269.19 75.46L273.06 71.59" stroke="#ffff00" stroke-width="0.82" fill="none"/><path d="M272.39 81.56H276.69M274.54 79.41V83.71M272.61 79.63L276.48 83.5M272.61 83.5L276.48 79.63" stroke="#ffff00" stroke-width="0.82" fill="none"/><path d="M275.81 91.26H280.11M277.96 89.11V93.41M276.03 89.33L279.9 93.2M276.03 93.2L279.9 89.33" stroke="#ffff00" stroke-width="0.82" fill="none"/><path d="M279.23 102.96H283.53M281.38 100.81V105.11M279.45 101.02L283.32 104.89M279.45 104.89L283.32 101.02" stroke="#ffff00" stroke-width="0.82" fill="none"/><path d="M282.65 117.06H286.95M284.8 114.91V119.21M282.86 115.12L286.73 118.99M282.86 118.99L286.73 115.12" stroke="#ffff00" stroke-width="0.82" fill="none"/><path d="M286.07 134.07H290.37M288.22 131.92V136.22M286.28 132.13L290.15 136M286.28 136L290.15 132.13" stroke="#ffff00" stroke-width="0.82" fill="none"/><path d="M289.49 154.62H293.79M291.64 152.47V156.77M289.71 152.68L293.58 156.55M289.71 156.55L293.58 152.68" stroke="#ffff00" stroke-width="0.82" fill="none"/><path d="M292.95 179.69H297.25M295.1 177.54V181.84M293.17 177.76L297.04 181.63M293.17 181.63L297.04 177.76" stroke="#ffff00" stroke-width="0.82" fill="none"/><path d="M296.41 210H300.71M298.56 207.85V212.15M296.63 208.06L300.5 211.93M296.63 211.93L300.5 208.06" stroke="#ffff00" stroke-width="0.82" fill="none"/>
<path d="M53.5 34.48L56.89 34.49L60.27 34.49L63.66 34.49L67.04 34.49L70.43 34.49L73.82 34.49L77.2 34.49L80.59 34.49L83.98 34.49L87.36 34.5L90.75 34.5L94.13 34.5L97.52 34.5L100.91 34.51L104.29 34.51L107.68 34.52L111.07 34.52L114.46 34.53L117.86 34.54L121.26 34.55L124.65 34.56L128.05 34.57L131.45 34.59L134.85 34.61L138.24 34.63L141.64 34.65L145.04 34.68L148.43 34.71L151.83 34.75L155.23 34.8L158.62 34.85L162.02 34.9L165.42 34.97L168.81 35.05L172.21 35.14L175.61 35.25L179 35.37L182.4 35.51L185.8 35.68L189.19 35.88L192.59 36.11L195.99 36.37L199.38 36.69L202.78 37.05L206.18 37.47L209.58 37.97L212.97 38.56L216.37 39.16L219.77 39.79L223.16 40.52L226.56 41.38L229.96 42.24L233.35 43.18L236.75 44.29L240.16 45.62L243.58 47.21L247 49.15L250.42 51.51L253.84 54.54L257.25 58.85L260.67 64.06L264.09 70.35L267.51 77.75L270.93 86.66L274.34 97.4L277.76 110.36L281.18 125.99L284.6 144.83L288.02 167.56L291.44 195.03L294.9 228.53L296.25 244.3" stroke="#00ffff" stroke-width="0.85" fill="none" stroke-linejoin="round"/>
<rect x="51.56" y="32.55" width="3.87" height="3.87" stroke="#00ffff" stroke-width="0.82" fill="none"/><rect x="54.95" y="32.55" width="3.87" height="3.87" stroke="#00ffff" stroke-width="0.82" fill="none"/><rect x="58.34" y="32.55" width="3.87" height="3.87" stroke="#00ffff" stroke-width="0.82" fill="none"/><rect x="61.72" y="32.55" width="3.87" height="3.87" stroke="#00ffff" stroke-width="0.82" fill="none"/><rect x="65.11" y="32.55" width="3.87" height="3.87" stroke="#00ffff" stroke-width="0.82" fill="none"/><rect x="68.5" y="32.55" width="3.87" height="3.87" stroke="#00ffff" stroke-width="0.82" fill="none"/><rect x="71.88" y="32.55" width="3.87" height="3.87" stroke="#00ffff" stroke-width="0.82" fill="none"/><rect x="75.27" y="32.56" width="3.87" height="3.87" stroke="#00ffff" stroke-width="0.82" fill="none"/><rect x="78.65" y="32.56" width="3.87" height="3.87" stroke="#00ffff" stroke-width="0.82" fill="none"/><rect x="82.04" y="32.56" width="3.87" height="3.87" stroke="#00ffff" stroke-width="0.82" fill="none"/><rect x="85.43" y="32.56" width="3.87" height="3.87" stroke="#00ffff" stroke-width="0.82" fill="none"/><rect x="88.81" y="32.56" width="3.87" height="3.87" stroke="#00ffff" stroke-width="0.82" fill="none"/><rect x="92.2" y="32.57" width="3.87" height="3.87" stroke="#00ffff" stroke-width="0.82" fill="none"/><rect x="95.58" y="32.57" width="3.87" height="3.87" stroke="#00ffff" stroke-width="0.82" fill="none"/><rect x="98.97" y="32.57" width="3.87" height="3.87" stroke="#00ffff" stroke-width="0.82" fill="none"/><rect x="102.36" y="32.58" width="3.87" height="3.87" stroke="#00ffff" stroke-width="0.82" fill="none"/><rect x="105.74" y="32.58" width="3.87" height="3.87" stroke="#00ffff" stroke-width="0.82" fill="none"/><rect x="109.13" y="32.59" width="3.87" height="3.87" stroke="#00ffff" stroke-width="0.82" fill="none"/><rect x="112.53" y="32.6" width="3.87" height="3.87" stroke="#00ffff" stroke-width="0.82" fill="none"/><rect x="115.93" y="32.6" width="3.87" height="3.87" stroke="#00ffff" stroke-width="0.82" fill="none"/><rect x="119.32" y="32.61" width="3.87" height="3.87" stroke="#00ffff" stroke-width="0.82" fill="none"/><rect x="122.72" y="32.62" width="3.87" height="3.87" stroke="#00ffff" stroke-width="0.82" fill="none"/><rect x="126.12" y="32.64" width="3.87" height="3.87" stroke="#00ffff" stroke-width="0.82" fill="none"/><rect x="129.51" y="32.65" width="3.87" height="3.87" stroke="#00ffff" stroke-width="0.82" fill="none"/><rect x="132.91" y="32.67" width="3.87" height="3.87" stroke="#00ffff" stroke-width="0.82" fill="none"/><rect x="136.31" y="32.69" width="3.87" height="3.87" stroke="#00ffff" stroke-width="0.82" fill="none"/><rect x="139.7" y="32.72" width="3.87" height="3.87" stroke="#00ffff" stroke-width="0.82" fill="none"/><rect x="143.1" y="32.74" width="3.87" height="3.87" stroke="#00ffff" stroke-width="0.82" fill="none"/><rect x="146.5" y="32.78" width="3.87" height="3.87" stroke="#00ffff" stroke-width="0.82" fill="none"/><rect x="149.89" y="32.82" width="3.87" height="3.87" stroke="#00ffff" stroke-width="0.82" fill="none"/><rect x="153.29" y="32.86" width="3.87" height="3.87" stroke="#00ffff" stroke-width="0.82" fill="none"/><rect x="156.69" y="32.91" width="3.87" height="3.87" stroke="#00ffff" stroke-width="0.82" fill="none"/><rect x="160.08" y="32.97" width="3.87" height="3.87" stroke="#00ffff" stroke-width="0.82" fill="none"/><rect x="163.48" y="33.04" width="3.87" height="3.87" stroke="#00ffff" stroke-width="0.82" fill="none"/><rect x="166.88" y="33.12" width="3.87" height="3.87" stroke="#00ffff" stroke-width="0.82" fill="none"/><rect x="170.28" y="33.21" width="3.87" height="3.87" stroke="#00ffff" stroke-width="0.82" fill="none"/><rect x="173.67" y="33.31" width="3.87" height="3.87" stroke="#00ffff" stroke-width="0.82" fill="none"/><rect x="177.07" y="33.44" width="3.87" height="3.87" stroke="#00ffff" stroke-width="0.82" fill="none"/><rect x="180.47" y="33.58" width="3.87" height="3.87" stroke="#00ffff" stroke-width="0.82" fill="none"/><rect x="183.86" y="33.75" width="3.87" height="3.87" stroke="#00ffff" stroke-width="0.82" fill="none"/><rect x="187.26" y="33.94" width="3.87" height="3.87" stroke="#00ffff" stroke-width="0.82" fill="none"/><rect x="190.66" y="34.17" width="3.87" height="3.87" stroke="#00ffff" stroke-width="0.82" fill="none"/><rect x="194.05" y="34.44" width="3.87" height="3.87" stroke="#00ffff" stroke-width="0.82" fill="none"/><rect x="197.45" y="34.75" width="3.87" height="3.87" stroke="#00ffff" stroke-width="0.82" fill="none"/><rect x="200.85" y="35.11" width="3.87" height="3.87" stroke="#00ffff" stroke-width="0.82" fill="none"/><rect x="204.24" y="35.54" width="3.87" height="3.87" stroke="#00ffff" stroke-width="0.82" fill="none"/><rect x="207.64" y="36.04" width="3.87" height="3.87" stroke="#00ffff" stroke-width="0.82" fill="none"/><rect x="211.04" y="36.62" width="3.87" height="3.87" stroke="#00ffff" stroke-width="0.82" fill="none"/><rect x="214.43" y="37.22" width="3.87" height="3.87" stroke="#00ffff" stroke-width="0.82" fill="none"/><rect x="217.83" y="37.85" width="3.87" height="3.87" stroke="#00ffff" stroke-width="0.82" fill="none"/><rect x="221.23" y="38.59" width="3.87" height="3.87" stroke="#00ffff" stroke-width="0.82" fill="none"/><rect x="224.62" y="39.45" width="3.87" height="3.87" stroke="#00ffff" stroke-width="0.82" fill="none"/><rect x="228.02" y="40.3" width="3.87" height="3.87" stroke="#00ffff" stroke-width="0.82" fill="none"/><rect x="231.42" y="41.24" width="3.87" height="3.87" stroke="#00ffff" stroke-width="0.82" fill="none"/><rect x="234.81" y="42.36" width="3.87" height="3.87" stroke="#00ffff" stroke-width="0.82" fill="none"/><rect x="238.23" y="43.69" width="3.87" height="3.87" stroke="#00ffff" stroke-width="0.82" fill="none"/><rect x="241.65" y="45.27" width="3.87" height="3.87" stroke="#00ffff" stroke-width="0.82" fill="none"/><rect x="245.06" y="47.21" width="3.87" height="3.87" stroke="#00ffff" stroke-width="0.82" fill="none"/><rect x="248.48" y="49.57" width="3.87" height="3.87" stroke="#00ffff" stroke-width="0.82" fill="none"/><rect x="251.9" y="52.6" width="3.87" height="3.87" stroke="#00ffff" stroke-width="0.82" fill="none"/><rect x="255.32" y="56.92" width="3.87" height="3.87" stroke="#00ffff" stroke-width="0.82" fill="none"/><rect x="258.74" y="62.13" width="3.87" height="3.87" stroke="#00ffff" stroke-width="0.82" fill="none"/><rect x="262.16" y="68.41" width="3.87" height="3.87" stroke="#00ffff" stroke-width="0.82" fill="none"/><rect x="265.57" y="75.81" width="3.87" height="3.87" stroke="#00ffff" stroke-width="0.82" fill="none"/><rect x="268.99" y="84.72" width="3.87" height="3.87" stroke="#00ffff" stroke-width="0.82" fill="none"/><rect x="272.41" y="95.47" width="3.87" height="3.87" stroke="#00ffff" stroke-width="0.82" fill="none"/><rect x="275.83" y="108.42" width="3.87" height="3.87" stroke="#00ffff" stroke-width="0.82" fill="none"/><rect x="279.25" y="124.05" width="3.87" height="3.87" stroke="#00ffff" stroke-width="0.82" fill="none"/><rect x="282.66" y="142.9" width="3.87" height="3.87" stroke="#00ffff" stroke-width="0.82" fill="none"/><rect x="286.08" y="165.63" width="3.87" height="3.87" stroke="#00ffff" stroke-width="0.82" fill="none"/><rect x="289.51" y="193.09" width="3.87" height="3.87" stroke="#00ffff" stroke-width="0.82" fill="none"/><rect x="292.97" y="226.6" width="3.87" height="3.87" stroke="#00ffff" stroke-width="0.82" fill="none"/>
<path d="M53.5 34.49L56.89 34.49L60.27 34.5L63.66 34.5L67.04 34.5L70.43 34.51L73.82 34.51L77.2 34.51L80.59 34.52L83.98 34.52L87.36 34.53L90.75 34.54L94.13 34.55L97.52 34.56L100.91 34.57L104.29 34.59L107.68 34.6L111.07 34.62L114.46 34.64L117.86 34.67L121.26 34.7L124.65 34.73L128.05 34.77L131.45 34.82L134.85 34.87L138.24 34.94L141.64 35.01L145.04 35.09L148.43 35.19L151.83 35.31L155.23 35.44L158.62 35.59L162.02 35.77L165.42 35.97L168.81 36.21L172.21 36.48L175.61 36.8L179 37.16L182.4 37.55L185.8 38.01L189.19 38.53L192.59 39.14L195.99 39.84L199.38 40.66L202.78 41.51L206.18 42.45L209.58 43.47L212.97 44.65L216.37 46.03L219.77 47.49L223.16 49.04L226.56 50.87L229.96 53.03L233.35 55.6L236.75 58.56L240.16 62.13L243.58 66.53L247 71.98L250.42 78.6L253.84 87.44L257.25 98.35L260.67 111.5L264.09 127.37L267.51 146.5L270.93 169.57L274.34 197.39L277.76 230.94L278.89 244.3" stroke="#ff00ff" stroke-width="0.85" fill="none" stroke-linejoin="round"/>
<rect x="51.56" y="32.56" width="3.87" height="3.87" fill="#ff00ff"/><rect x="54.95" y="32.56" width="3.87" height="3.87" fill="#ff00ff"/><rect x="58.34" y="32.56" width="3.87" height="3.87" fill="#ff00ff"/><rect x="61.72" y="32.56" width="3.87" height="3.87" fill="#ff00ff"/><rect x="65.11" y="32.57" width="3.87" height="3.87" fill="#ff00ff"/><rect x="68.5" y="32.57" width="3.87" height="3.87" fill="#ff00ff"/><rect x="71.88" y="32.57" width="3.87" height="3.87" fill="#ff00ff"/><rect x="75.27" y="32.58" width="3.87" height="3.87" fill="#ff00ff"/><rect x="78.65" y="32.58" width="3.87" height="3.87" fill="#ff00ff"/><rect x="82.04" y="32.59" width="3.87" height="3.87" fill="#ff00ff"/><rect x="85.43" y="32.6" width="3.87" height="3.87" fill="#ff00ff"/><rect x="88.81" y="32.6" width="3.87" height="3.87" fill="#ff00ff"/><rect x="92.2" y="32.61" width="3.87" height="3.87" fill="#ff00ff"/><rect x="95.58" y="32.62" width="3.87" height="3.87" fill="#ff00ff"/><rect x="98.97" y="32.64" width="3.87" height="3.87" fill="#ff00ff"/><rect x="102.36" y="32.65" width="3.87" height="3.87" fill="#ff00ff"/><rect x="105.74" y="32.67" width="3.87" height="3.87" fill="#ff00ff"/><rect x="109.13" y="32.69" width="3.87" height="3.87" fill="#ff00ff"/><rect x="112.53" y="32.71" width="3.87" height="3.87" fill="#ff00ff"/><rect x="115.93" y="32.73" width="3.87" height="3.87" fill="#ff00ff"/><rect x="119.32" y="32.76" width="3.87" height="3.87" fill="#ff00ff"/><rect x="122.72" y="32.8" width="3.87" height="3.87" fill="#ff00ff"/><rect x="126.12" y="32.84" width="3.87" height="3.87" fill="#ff00ff"/><rect x="129.51" y="32.89" width="3.87" height="3.87" fill="#ff00ff"/><rect x="132.91" y="32.94" width="3.87" height="3.87" fill="#ff00ff"/><rect x="136.31" y="33" width="3.87" height="3.87" fill="#ff00ff"/><rect x="139.7" y="33.07" width="3.87" height="3.87" fill="#ff00ff"/><rect x="143.1" y="33.16" width="3.87" height="3.87" fill="#ff00ff"/><rect x="146.5" y="33.26" width="3.87" height="3.87" fill="#ff00ff"/><rect x="149.89" y="33.37" width="3.87" height="3.87" fill="#ff00ff"/><rect x="153.29" y="33.5" width="3.87" height="3.87" fill="#ff00ff"/><rect x="156.69" y="33.65" width="3.87" height="3.87" fill="#ff00ff"/><rect x="160.08" y="33.83" width="3.87" height="3.87" fill="#ff00ff"/><rect x="163.48" y="34.04" width="3.87" height="3.87" fill="#ff00ff"/><rect x="166.88" y="34.27" width="3.87" height="3.87" fill="#ff00ff"/><rect x="170.28" y="34.55" width="3.87" height="3.87" fill="#ff00ff"/><rect x="173.67" y="34.87" width="3.87" height="3.87" fill="#ff00ff"/><rect x="177.07" y="35.22" width="3.87" height="3.87" fill="#ff00ff"/><rect x="180.47" y="35.62" width="3.87" height="3.87" fill="#ff00ff"/><rect x="183.86" y="36.07" width="3.87" height="3.87" fill="#ff00ff"/><rect x="187.26" y="36.6" width="3.87" height="3.87" fill="#ff00ff"/><rect x="190.66" y="37.21" width="3.87" height="3.87" fill="#ff00ff"/><rect x="194.05" y="37.91" width="3.87" height="3.87" fill="#ff00ff"/><rect x="197.45" y="38.72" width="3.87" height="3.87" fill="#ff00ff"/><rect x="200.85" y="39.57" width="3.87" height="3.87" fill="#ff00ff"/><rect x="204.24" y="40.52" width="3.87" height="3.87" fill="#ff00ff"/><rect x="207.64" y="41.54" width="3.87" height="3.87" fill="#ff00ff"/><rect x="211.04" y="42.72" width="3.87" height="3.87" fill="#ff00ff"/><rect x="214.43" y="44.09" width="3.87" height="3.87" fill="#ff00ff"/><rect x="217.83" y="45.56" width="3.87" height="3.87" fill="#ff00ff"/><rect x="221.23" y="47.11" width="3.87" height="3.87" fill="#ff00ff"/><rect x="224.62" y="48.93" width="3.87" height="3.87" fill="#ff00ff"/><rect x="228.02" y="51.1" width="3.87" height="3.87" fill="#ff00ff"/><rect x="231.42" y="53.66" width="3.87" height="3.87" fill="#ff00ff"/><rect x="234.81" y="56.62" width="3.87" height="3.87" fill="#ff00ff"/><rect x="238.23" y="60.19" width="3.87" height="3.87" fill="#ff00ff"/><rect x="241.65" y="64.59" width="3.87" height="3.87" fill="#ff00ff"/><rect x="245.06" y="70.05" width="3.87" height="3.87" fill="#ff00ff"/><rect x="248.48" y="76.66" width="3.87" height="3.87" fill="#ff00ff"/><rect x="251.9" y="85.51" width="3.87" height="3.87" fill="#ff00ff"/><rect x="255.32" y="96.41" width="3.87" height="3.87" fill="#ff00ff"/><rect x="258.74" y="109.57" width="3.87" height="3.87" fill="#ff00ff"/><rect x="262.16" y="125.43" width="3.87" height="3.87" fill="#ff00ff"/><rect x="265.57" y="144.56" width="3.87" height="3.87" fill="#ff00ff"/><rect x="268.99" y="167.63" width="3.87" height="3.87" fill="#ff00ff"/><rect x="272.41" y="195.45" width="3.87" height="3.87" fill="#ff00ff"/><rect x="275.83" y="229.01" width="3.87" height="3.87" fill="#ff00ff"/>
<path d="M53.93 34.5L57.32 34.51L60.7 34.51L64.09 34.51L67.47 34.52L70.86 34.52L74.25 34.53L77.63 34.54L81.02 34.55L84.41 34.56L87.79 34.57L91.18 34.59L94.56 34.6L97.95 34.62L101.34 34.64L104.72 34.67L108.11 34.7L111.5 34.73L114.89 34.77L118.29 34.82L121.69 34.88L125.08 34.94L128.48 35.01L131.88 35.1L135.28 35.19L138.67 35.31L142.07 35.44L145.47 35.59L148.86 35.77L152.26 35.97L155.66 36.21L159.05 36.49L162.45 36.81L165.85 37.17L169.24 37.56L172.64 38.02L176.04 38.54L179.43 39.15L182.83 39.86L186.23 40.67L189.62 41.52L193.02 42.47L196.42 43.49L199.81 44.68L203.21 46.06L206.61 47.52L210.01 49.07L213.4 50.91L216.8 53.07L220.2 55.65L223.59 58.61L226.99 62.18L230.39 66.56L233.78 71.99L237.18 78.56L240.59 87.37L244.01 98.27L247.43 111.41L250.85 127.25L254.27 146.35L257.68 169.4L261.1 197.18L264.52 230.69L265.67 244.3" stroke="#0000ff" stroke-width="0.85" fill="none" stroke-linejoin="round"/>
<circle cx="53.93" cy="34.5" r="1.85" stroke="#0000ff" stroke-width="0.82" fill="none"/><circle cx="57.32" cy="34.51" r="1.85" stroke="#0000ff" stroke-width="0.82" fill="none"/><circle cx="60.7" cy="34.51" r="1.85" stroke="#0000ff" stroke-width="0.82" fill="none"/><circle cx="64.09" cy="34.51" r="1.85" stroke="#0000ff" stroke-width="0.82" fill="none"/><circle cx="67.47" cy="34.52" r="1.85" stroke="#0000ff" stroke-width="0.82" fill="none"/><circle cx="70.86" cy="34.52" r="1.85" stroke="#0000ff" stroke-width="0.82" fill="none"/><circle cx="74.25" cy="34.53" r="1.85" stroke="#0000ff" stroke-width="0.82" fill="none"/><circle cx="77.63" cy="34.54" r="1.85" stroke="#0000ff" stroke-width="0.82" fill="none"/><circle cx="81.02" cy="34.55" r="1.85" stroke="#0000ff" stroke-width="0.82" fill="none"/><circle cx="84.41" cy="34.56" r="1.85" stroke="#0000ff" stroke-width="0.82" fill="none"/><circle cx="87.79" cy="34.57" r="1.85" stroke="#0000ff" stroke-width="0.82" fill="none"/><circle cx="91.18" cy="34.59" r="1.85" stroke="#0000ff" stroke-width="0.82" fill="none"/><circle cx="94.56" cy="34.6" r="1.85" stroke="#0000ff" stroke-width="0.82" fill="none"/><circle cx="97.95" cy="34.62" r="1.85" stroke="#0000ff" stroke-width="0.82" fill="none"/><circle cx="101.34" cy="34.64" r="1.85" stroke="#0000ff" stroke-width="0.82" fill="none"/><circle cx="104.72" cy="34.67" r="1.85" stroke="#0000ff" stroke-width="0.82" fill="none"/><circle cx="108.11" cy="34.7" r="1.85" stroke="#0000ff" stroke-width="0.82" fill="none"/><circle cx="111.5" cy="34.73" r="1.85" stroke="#0000ff" stroke-width="0.82" fill="none"/><circle cx="114.89" cy="34.77" r="1.85" stroke="#0000ff" stroke-width="0.82" fill="none"/><circle cx="118.29" cy="34.82" r="1.85" stroke="#0000ff" stroke-width="0.82" fill="none"/><circle cx="121.69" cy="34.88" r="1.85" stroke="#0000ff" stroke-width="0.82" fill="none"/><circle cx="125.08" cy="34.94" r="1.85" stroke="#0000ff" stroke-width="0.82" fill="none"/><circle cx="128.48" cy="35.01" r="1.85" stroke="#0000ff" stroke-width="0.82" fill="none"/><circle cx="131.88" cy="35.1" r="1.85" stroke="#0000ff" stroke-width="0.82" fill="none"/><circle cx="135.28" cy="35.19" r="1.85" stroke="#0000ff" stroke-width="0.82" fill="none"/><circle cx="138.67" cy="35.31" r="1.85" stroke="#0000ff" stroke-width="0.82" fill="none"/><circle cx="142.07" cy="35.44" r="1.85" stroke="#0000ff" stroke-width="0.82" fill="none"/><circle cx="145.47" cy="35.59" r="1.85" stroke="#0000ff" stroke-width="0.82" fill="none"/><circle cx="148.86" cy="35.77" r="1.85" stroke="#0000ff" stroke-width="0.82" fill="none"/><circle cx="152.26" cy="35.97" r="1.85" stroke="#0000ff" stroke-width="0.82" fill="none"/><circle cx="155.66" cy="36.21" r="1.85" stroke="#0000ff" stroke-width="0.82" fill="none"/><circle cx="159.05" cy="36.49" r="1.85" stroke="#0000ff" stroke-width="0.82" fill="none"/><circle cx="162.45" cy="36.81" r="1.85" stroke="#0000ff" stroke-width="0.82" fill="none"/><circle cx="165.85" cy="37.17" r="1.85" stroke="#0000ff" stroke-width="0.82" fill="none"/><circle cx="169.24" cy="37.56" r="1.85" stroke="#0000ff" stroke-width="0.82" fill="none"/><circle cx="172.64" cy="38.02" r="1.85" stroke="#0000ff" stroke-width="0.82" fill="none"/><circle cx="176.04" cy="38.54" r="1.85" stroke="#0000ff" stroke-width="0.82" fill="none"/><circle cx="179.43" cy="39.15" r="1.85" stroke="#0000ff" stroke-width="0.82" fill="none"/><circle cx="182.83" cy="39.86" r="1.85" stroke="#0000ff" stroke-width="0.82" fill="none"/><circle cx="186.23" cy="40.67" r="1.85" stroke="#0000ff" stroke-width="0.82" fill="none"/><circle cx="189.62" cy="41.52" r="1.85" stroke="#0000ff" stroke-width="0.82" fill="none"/><circle cx="193.02" cy="42.47" r="1.85" stroke="#0000ff" stroke-width="0.82" fill="none"/><circle cx="196.42" cy="43.49" r="1.85" stroke="#0000ff" stroke-width="0.82" fill="none"/><circle cx="199.81" cy="44.68" r="1.85" stroke="#0000ff" stroke-width="0.82" fill="none"/><circle cx="203.21" cy="46.06" r="1.85" stroke="#0000ff" stroke-width="0.82" fill="none"/><circle cx="206.61" cy="47.52" r="1.85" stroke="#0000ff" stroke-width="0.82" fill="none"/><circle cx="210.01" cy="49.07" r="1.85" stroke="#0000ff" stroke-width="0.82" fill="none"/><circle cx="213.4" cy="50.91" r="1.85" stroke="#0000ff" stroke-width="0.82" fill="none"/><circle cx="216.8" cy="53.07" r="1.85" stroke="#0000ff" stroke-width="0.82" fill="none"/><circle cx="220.2" cy="55.65" r="1.85" stroke="#0000ff" stroke-width="0.82" fill="none"/><circle cx="223.59" cy="58.61" r="1.85" stroke="#0000ff" stroke-width="0.82" fill="none"/><circle cx="226.99" cy="62.18" r="1.85" stroke="#0000ff" stroke-width="0.82" fill="none"/><circle cx="230.39" cy="66.56" r="1.85" stroke="#0000ff" stroke-width="0.82" fill="none"/><circle cx="233.78" cy="71.99" r="1.85" stroke="#0000ff" stroke-width="0.82" fill="none"/><circle cx="237.18" cy="78.56" r="1.85" stroke="#0000ff" stroke-width="0.82" fill="none"/><circle cx="240.59" cy="87.37" r="1.85" stroke="#0000ff" stroke-width="0.82" fill="none"/><circle cx="244.01" cy="98.27" r="1.85" stroke="#0000ff" stroke-width="0.82" fill="none"/><circle cx="247.43" cy="111.41" r="1.85" stroke="#0000ff" stroke-width="0.82" fill="none"/><circle cx="250.85" cy="127.25" r="1.85" stroke="#0000ff" stroke-width="0.82" fill="none"/><circle cx="254.27" cy="146.35" r="1.85" stroke="#0000ff" stroke-width="0.82" fill="none"/><circle cx="257.68" cy="169.4" r="1.85" stroke="#0000ff" stroke-width="0.82" fill="none"/><circle cx="261.1" cy="197.18" r="1.85" stroke="#0000ff" stroke-width="0.82" fill="none"/><circle cx="264.52" cy="230.69" r="1.85" stroke="#0000ff" stroke-width="0.82" fill="none"/>
<path d="M53.3 34.52L56.69 34.53L60.07 34.53L63.46 34.54L66.84 34.55L70.23 34.56L73.62 34.57L77 34.59L80.39 34.6L83.78 34.62L87.16 34.65L90.55 34.67L93.93 34.7L97.32 34.74L100.71 34.78L104.09 34.83L107.48 34.88L110.87 34.94L114.26 35.02L117.66 35.1L121.06 35.2L124.45 35.32L127.85 35.45L131.25 35.61L134.65 35.79L138.04 36L141.44 36.24L144.84 36.52L148.23 36.84L151.63 37.2L155.03 37.6L158.42 38.06L161.82 38.6L165.22 39.22L168.61 39.93L172.01 40.76L175.41 41.61L178.8 42.56L182.2 43.6L185.6 44.8L188.99 46.2L192.39 47.66L195.79 49.23L199.18 51.1L202.58 53.3L205.98 55.91L209.38 58.93L212.77 62.55L216.17 67.03L219.57 72.56L222.96 79.25L226.36 88.27L229.76 99.27L233.15 112.52L236.55 128.49L239.96 147.82L243.38 171.17L246.8 199.32L250.22 233.27L251.14 244.3" stroke="#00ff00" stroke-width="0.85" fill="none" stroke-linejoin="round"/>
<circle cx="53.3" cy="34.52" r="2.04" fill="#00ff00"/><circle cx="56.69" cy="34.53" r="2.04" fill="#00ff00"/><circle cx="60.07" cy="34.53" r="2.04" fill="#00ff00"/><circle cx="63.46" cy="34.54" r="2.04" fill="#00ff00"/><circle cx="66.84" cy="34.55" r="2.04" fill="#00ff00"/><circle cx="70.23" cy="34.56" r="2.04" fill="#00ff00"/><circle cx="73.62" cy="34.57" r="2.04" fill="#00ff00"/><circle cx="77" cy="34.59" r="2.04" fill="#00ff00"/><circle cx="80.39" cy="34.6" r="2.04" fill="#00ff00"/><circle cx="83.78" cy="34.62" r="2.04" fill="#00ff00"/><circle cx="87.16" cy="34.65" r="2.04" fill="#00ff00"/><circle cx="90.55" cy="34.67" r="2.04" fill="#00ff00"/><circle cx="93.93" cy="34.7" r="2.04" fill="#00ff00"/><circle cx="97.32" cy="34.74" r="2.04" fill="#00ff00"/><circle cx="100.71" cy="34.78" r="2.04" fill="#00ff00"/><circle cx="104.09" cy="34.83" r="2.04" fill="#00ff00"/><circle cx="107.48" cy="34.88" r="2.04" fill="#00ff00"/><circle cx="110.87" cy="34.94" r="2.04" fill="#00ff00"/><circle cx="114.26" cy="35.02" r="2.04" fill="#00ff00"/><circle cx="117.66" cy="35.1" r="2.04" fill="#00ff00"/><circle cx="121.06" cy="35.2" r="2.04" fill="#00ff00"/><circle cx="124.45" cy="35.32" r="2.04" fill="#00ff00"/><circle cx="127.85" cy="35.45" r="2.04" fill="#00ff00"/><circle cx="131.25" cy="35.61" r="2.04" fill="#00ff00"/><circle cx="134.65" cy="35.79" r="2.04" fill="#00ff00"/><circle cx="138.04" cy="36" r="2.04" fill="#00ff00"/><circle cx="141.44" cy="36.24" r="2.04" fill="#00ff00"/><circle cx="144.84" cy="36.52" r="2.04" fill="#00ff00"/><circle cx="148.23" cy="36.84" r="2.04" fill="#00ff00"/><circle cx="151.63" cy="37.2" r="2.04" fill="#00ff00"/><circle cx="155.03" cy="37.6" r="2.04" fill="#00ff00"/><circle cx="158.42" cy="38.06" r="2.04" fill="#00ff00"/><circle cx="161.82" cy="38.6" r="2.04" fill="#00ff00"/><circle cx="165.22" cy="39.22" r="2.04" fill="#00ff00"/><circle cx="168.61" cy="39.93" r="2.04" fill="#00ff00"/><circle cx="172.01" cy="40.76" r="2.04" fill="#00ff00"/><circle cx="175.41" cy="41.61" r="2.04" fill="#00ff00"/><circle cx="178.8" cy="42.56" r="2.04" fill="#00ff00"/><circle cx="182.2" cy="43.6" r="2.04" fill="#00ff00"/><circle cx="185.6" cy="44.8" r="2.04" fill="#00ff00"/><circle cx="188.99" cy="46.2" r="2.04" fill="#00ff00"/><circle cx="192.39" cy="47.66" r="2.04" fill="#00ff00"/><circle cx="195.79" cy="49.23" r="2.04" fill="#00ff00"/><circle cx="199.18" cy="51.1" r="2.04" fill="#00ff00"/><circle cx="202.58" cy="53.3" r="2.04" fill="#00ff00"/><circle cx="205.98" cy="55.91" r="2.04" fill="#00ff00"/><circle cx="209.38" cy="58.93" r="2.04" fill="#00ff00"/><circle cx="212.77" cy="62.55" r="2.04" fill="#00ff00"/><circle cx="216.17" cy="67.03" r="2.04" fill="#00ff00"/><circle cx="219.57" cy="72.56" r="2.04" fill="#00ff00"/><circle cx="222.96" cy="79.25" r="2.04" fill="#00ff00"/><circle cx="226.36" cy="88.27" r="2.04" fill="#00ff00"/><circle cx="229.76" cy="99.27" r="2.04" fill="#00ff00"/><circle cx="233.15" cy="112.52" r="2.04" fill="#00ff00"/><circle cx="236.55" cy="128.49" r="2.04" fill="#00ff00"/><circle cx="239.96" cy="147.82" r="2.04" fill="#00ff00"/><circle cx="243.38" cy="171.17" r="2.04" fill="#00ff00"/><circle cx="246.8" cy="199.32" r="2.04" fill="#00ff00"/><circle cx="250.22" cy="233.27" r="2.04" fill="#00ff00"/>
<path d="M53.3 34.54L56.69 34.54L60.07 34.55L63.46 34.57L66.84 34.58L70.23 34.6L73.62 34.61L77 34.63L80.39 34.66L83.78 34.69L87.16 34.72L90.55 34.76L93.93 34.8L97.32 34.85L100.71 34.91L104.09 34.98L107.48 35.06L110.87 35.15L114.26 35.26L117.66 35.38L121.06 35.52L124.45 35.69L127.85 35.88L131.25 36.11L134.65 36.37L138.04 36.67L141.44 37.01L144.84 37.39L148.23 37.81L151.63 38.31L155.03 38.88L158.42 39.54L161.82 40.31L165.22 41.15L168.61 42.06L172.01 43.04L175.41 44.15L178.8 45.44L182.2 46.93L185.6 48.38L188.99 50.09L192.39 52.1L195.79 54.5L199.18 57.28L202.58 60.57L205.98 64.54L209.38 69.54L212.77 75.59L216.17 83.29L219.57 93.27L222.96 105.3L226.36 119.78L229.76 137.23L233.15 158.24L236.55 183.56L239.96 214.22L242.74 244.3" stroke="#ff0000" stroke-width="0.85" fill="none" stroke-linejoin="round"/>
<path d="M53.3 32.34L51.32 35.7L55.28 35.7Z" stroke="#ff0000" stroke-width="0.9199999999999999" fill="none" stroke-linejoin="round"/><path d="M56.69 32.35L54.71 35.71L58.66 35.71Z" stroke="#ff0000" stroke-width="0.9199999999999999" fill="none" stroke-linejoin="round"/><path d="M60.07 32.36L58.09 35.72L62.05 35.72Z" stroke="#ff0000" stroke-width="0.9199999999999999" fill="none" stroke-linejoin="round"/><path d="M63.46 32.37L61.48 35.73L65.44 35.73Z" stroke="#ff0000" stroke-width="0.9199999999999999" fill="none" stroke-linejoin="round"/><path d="M66.84 32.39L64.87 35.74L68.82 35.74Z" stroke="#ff0000" stroke-width="0.9199999999999999" fill="none" stroke-linejoin="round"/><path d="M70.23 32.4L68.25 35.76L72.21 35.76Z" stroke="#ff0000" stroke-width="0.9199999999999999" fill="none" stroke-linejoin="round"/><path d="M73.62 32.42L71.64 35.77L75.59 35.77Z" stroke="#ff0000" stroke-width="0.9199999999999999" fill="none" stroke-linejoin="round"/><path d="M77 32.44L75.02 35.8L78.98 35.8Z" stroke="#ff0000" stroke-width="0.9199999999999999" fill="none" stroke-linejoin="round"/><path d="M80.39 32.47L78.41 35.82L82.37 35.82Z" stroke="#ff0000" stroke-width="0.9199999999999999" fill="none" stroke-linejoin="round"/><path d="M83.78 32.49L81.8 35.85L85.75 35.85Z" stroke="#ff0000" stroke-width="0.9199999999999999" fill="none" stroke-linejoin="round"/><path d="M87.16 32.53L85.18 35.88L89.14 35.88Z" stroke="#ff0000" stroke-width="0.9199999999999999" fill="none" stroke-linejoin="round"/><path d="M90.55 32.56L88.57 35.92L92.53 35.92Z" stroke="#ff0000" stroke-width="0.9199999999999999" fill="none" stroke-linejoin="round"/><path d="M93.93 32.61L91.96 35.96L95.91 35.96Z" stroke="#ff0000" stroke-width="0.9199999999999999" fill="none" stroke-linejoin="round"/><path d="M97.32 32.66L95.34 36.01L99.3 36.01Z" stroke="#ff0000" stroke-width="0.9199999999999999" fill="none" stroke-linejoin="round"/><path d="M100.71 32.72L98.73 36.07L102.68 36.07Z" stroke="#ff0000" stroke-width="0.9199999999999999" fill="none" stroke-linejoin="round"/><path d="M104.09 32.79L102.11 36.14L106.07 36.14Z" stroke="#ff0000" stroke-width="0.9199999999999999" fill="none" stroke-linejoin="round"/><path d="M107.48 32.87L105.5 36.22L109.46 36.22Z" stroke="#ff0000" stroke-width="0.9199999999999999" fill="none" stroke-linejoin="round"/><path d="M110.87 32.96L108.89 36.31L112.85 36.31Z" stroke="#ff0000" stroke-width="0.9199999999999999" fill="none" stroke-linejoin="round"/><path d="M114.26 33.06L112.29 36.42L116.24 36.42Z" stroke="#ff0000" stroke-width="0.9199999999999999" fill="none" stroke-linejoin="round"/><path d="M117.66 33.19L115.68 36.54L119.64 36.54Z" stroke="#ff0000" stroke-width="0.9199999999999999" fill="none" stroke-linejoin="round"/><path d="M121.06 33.33L119.08 36.68L123.04 36.68Z" stroke="#ff0000" stroke-width="0.9199999999999999" fill="none" stroke-linejoin="round"/><path d="M124.45 33.5L122.48 36.85L126.43 36.85Z" stroke="#ff0000" stroke-width="0.9199999999999999" fill="none" stroke-linejoin="round"/><path d="M127.85 33.69L125.87 37.04L129.83 37.04Z" stroke="#ff0000" stroke-width="0.9199999999999999" fill="none" stroke-linejoin="round"/><path d="M131.25 33.91L129.27 37.27L133.23 37.27Z" stroke="#ff0000" stroke-width="0.9199999999999999" fill="none" stroke-linejoin="round"/><path d="M134.65 34.17L132.67 37.53L136.62 37.53Z" stroke="#ff0000" stroke-width="0.9199999999999999" fill="none" stroke-linejoin="round"/><path d="M138.04 34.47L136.06 37.83L140.02 37.83Z" stroke="#ff0000" stroke-width="0.9199999999999999" fill="none" stroke-linejoin="round"/><path d="M141.44 34.82L139.46 38.17L143.42 38.17Z" stroke="#ff0000" stroke-width="0.9199999999999999" fill="none" stroke-linejoin="round"/><path d="M144.84 35.19L142.86 38.55L146.81 38.55Z" stroke="#ff0000" stroke-width="0.9199999999999999" fill="none" stroke-linejoin="round"/><path d="M148.23 35.62L146.25 38.98L150.21 38.98Z" stroke="#ff0000" stroke-width="0.9199999999999999" fill="none" stroke-linejoin="round"/><path d="M151.63 36.12L149.65 39.47L153.61 39.47Z" stroke="#ff0000" stroke-width="0.9199999999999999" fill="none" stroke-linejoin="round"/><path d="M155.03 36.69L153.05 40.04L157 40.04Z" stroke="#ff0000" stroke-width="0.9199999999999999" fill="none" stroke-linejoin="round"/><path d="M158.42 37.35L156.44 40.7L160.4 40.7Z" stroke="#ff0000" stroke-width="0.9199999999999999" fill="none" stroke-linejoin="round"/><path d="M161.82 38.12L159.84 41.47L163.8 41.47Z" stroke="#ff0000" stroke-width="0.9199999999999999" fill="none" stroke-linejoin="round"/><path d="M165.22 38.96L163.24 42.31L167.19 42.31Z" stroke="#ff0000" stroke-width="0.9199999999999999" fill="none" stroke-linejoin="round"/><path d="M168.61 39.87L166.64 43.22L170.59 43.22Z" stroke="#ff0000" stroke-width="0.9199999999999999" fill="none" stroke-linejoin="round"/><path d="M172.01 40.84L170.03 44.2L173.99 44.2Z" stroke="#ff0000" stroke-width="0.9199999999999999" fill="none" stroke-linejoin="round"/><path d="M175.41 41.96L173.43 45.31L177.38 45.31Z" stroke="#ff0000" stroke-width="0.9199999999999999" fill="none" stroke-linejoin="round"/><path d="M178.8 43.25L176.83 46.6L180.78 46.6Z" stroke="#ff0000" stroke-width="0.9199999999999999" fill="none" stroke-linejoin="round"/><path d="M182.2 44.74L180.22 48.09L184.18 48.09Z" stroke="#ff0000" stroke-width="0.9199999999999999" fill="none" stroke-linejoin="round"/><path d="M185.6 46.19L183.62 49.54L187.58 49.54Z" stroke="#ff0000" stroke-width="0.9199999999999999" fill="none" stroke-linejoin="round"/><path d="M188.99 47.89L187.02 51.25L190.97 51.25Z" stroke="#ff0000" stroke-width="0.9199999999999999" fill="none" stroke-linejoin="round"/><path d="M192.39 49.91L190.41 53.26L194.37 53.26Z" stroke="#ff0000" stroke-width="0.9199999999999999" fill="none" stroke-linejoin="round"/><path d="M195.79 52.3L193.81 55.66L197.77 55.66Z" stroke="#ff0000" stroke-width="0.9199999999999999" fill="none" stroke-linejoin="round"/><path d="M199.18 55.09L197.21 58.44L201.16 58.44Z" stroke="#ff0000" stroke-width="0.9199999999999999" fill="none" stroke-linejoin="round"/><path d="M202.58 58.38L200.6 61.74L204.56 61.74Z" stroke="#ff0000" stroke-width="0.9199999999999999" fill="none" stroke-linejoin="round"/><path d="M205.98 62.34L204 65.7L207.96 65.7Z" stroke="#ff0000" stroke-width="0.9199999999999999" fill="none" stroke-linejoin="round"/><path d="M209.38 67.35L207.4 70.7L211.35 70.7Z" stroke="#ff0000" stroke-width="0.9199999999999999" fill="none" stroke-linejoin="round"/><path d="M212.77 73.4L210.79 76.75L214.75 76.75Z" stroke="#ff0000" stroke-width="0.9199999999999999" fill="none" stroke-linejoin="round"/><path d="M216.17 81.09L214.19 84.45L218.15 84.45Z" stroke="#ff0000" stroke-width="0.9199999999999999" fill="none" stroke-linejoin="round"/><path d="M219.57 91.08L217.59 94.43L221.54 94.43Z" stroke="#ff0000" stroke-width="0.9199999999999999" fill="none" stroke-linejoin="round"/><path d="M222.96 103.1L220.98 106.46L224.94 106.46Z" stroke="#ff0000" stroke-width="0.9199999999999999" fill="none" stroke-linejoin="round"/><path d="M226.36 117.59L224.38 120.94L228.34 120.94Z" stroke="#ff0000" stroke-width="0.9199999999999999" fill="none" stroke-linejoin="round"/><path d="M229.76 135.03L227.78 138.39L231.73 138.39Z" stroke="#ff0000" stroke-width="0.9199999999999999" fill="none" stroke-linejoin="round"/><path d="M233.15 156.05L231.17 159.41L235.13 159.41Z" stroke="#ff0000" stroke-width="0.9199999999999999" fill="none" stroke-linejoin="round"/><path d="M236.55 181.37L234.57 184.72L238.53 184.72Z" stroke="#ff0000" stroke-width="0.9199999999999999" fill="none" stroke-linejoin="round"/><path d="M239.96 212.03L237.99 215.39L241.94 215.39Z" stroke="#ff0000" stroke-width="0.9199999999999999" fill="none" stroke-linejoin="round"/>
<rect x="53.5" y="13.5" width="342" height="230.8" fill="none" stroke="#2a2a2a" stroke-width="1.15"/>
<path d="M66.7 148.2H96.9" stroke="#808080" stroke-width="0.85" fill="none"/>
<path d="M66.7 159.1H96.9" stroke="#ff4500" stroke-width="0.85" fill="none"/>
<path d="M79.65 159.1H83.95M81.8 156.95V161.25" stroke="#ff4500" stroke-width="0.82" fill="none"/>
<path d="M66.7 170H96.9" stroke="#000000" stroke-width="0.85" fill="none"/>
<path d="M79.87 168.06L83.74 171.94M79.87 171.94L83.74 168.06" stroke="#000000" stroke-width="0.82" fill="none"/>
<path d="M66.7 180.9H96.9" stroke="#ffff00" stroke-width="0.85" fill="none"/>
<path d="M79.65 180.9H83.95M81.8 178.75V183.05M79.87 178.96L83.74 182.83M79.87 182.83L83.74 178.96" stroke="#ffff00" stroke-width="0.82" fill="none"/>
<path d="M66.7 191.8H96.9" stroke="#00ffff" stroke-width="0.85" fill="none"/>
<rect x="79.87" y="189.86" width="3.87" height="3.87" stroke="#00ffff" stroke-width="0.82" fill="none"/>
<path d="M66.7 202.7H96.9" stroke="#ff00ff" stroke-width="0.85" fill="none"/>
<rect x="79.87" y="200.76" width="3.87" height="3.87" fill="#ff00ff"/>
<path d="M66.7 213.6H96.9" stroke="#0000ff" stroke-width="0.85" fill="none"/>
<circle cx="81.8" cy="213.6" r="1.85" stroke="#0000ff" stroke-width="0.82" fill="none"/>
<path d="M66.7 224.5H96.9" stroke="#00ff00" stroke-width="0.85" fill="none"/>
<circle cx="81.8" cy="224.5" r="2.04" fill="#00ff00"/>
<path d="M66.7 235.4H96.9" stroke="#ff0000" stroke-width="0.85" fill="none"/>
<path d="M81.8 233.21L79.82 236.56L83.78 236.56Z" stroke="#ff0000" stroke-width="0.9199999999999999" fill="none" stroke-linejoin="round"/>
</g>
<g opacity="1.0" filter="url(#b)">
<text transform="translate(103.6 150.7) scale(1.07 1)">z<tspan dy="3.1" font-size="8.16">1</tspan><tspan dy="-3.1">=0.005</tspan></text>
<text transform="translate(103.6 161.6) scale(1.07 1)">z<tspan dy="3.1" font-size="8.16">1</tspan><tspan dy="-3.1">=0.01</tspan></text>
<text transform="translate(103.6 172.5) scale(1.07 1)">z<tspan dy="3.1" font-size="8.16">1</tspan><tspan dy="-3.1">=0.1</tspan></text>
<text transform="translate(103.6 183.4) scale(1.07 1)">z<tspan dy="3.1" font-size="8.16">1</tspan><tspan dy="-3.1">=0.15</tspan></text>
<text transform="translate(103.6 194.3) scale(1.07 1)">z<tspan dy="3.1" font-size="8.16">1</tspan><tspan dy="-3.1">=0.2</tspan></text>
<text transform="translate(103.6 205.2) scale(1.07 1)">z<tspan dy="3.1" font-size="8.16">1</tspan><tspan dy="-3.1">=0.5</tspan></text>
<text transform="translate(103.6 216.1) scale(1.07 1)">z<tspan dy="3.1" font-size="8.16">1</tspan><tspan dy="-3.1">=1</tspan></text>
<text transform="translate(103.6 227) scale(1.07 1)">z<tspan dy="3.1" font-size="8.16">1</tspan><tspan dy="-3.1">=2</tspan></text>
<text transform="translate(103.6 237.9) scale(1.07 1)">z<tspan dy="3.1" font-size="8.16">1</tspan><tspan dy="-3.1">=3</tspan></text>
<text text-anchor="end" transform="translate(46.9 248.3) scale(1.07 1)">0</text>
<text text-anchor="end" transform="translate(46.9 227.32) scale(1.07 1)">0.1</text>
<text text-anchor="end" transform="translate(46.9 206.34) scale(1.07 1)">0.2</text>
<text text-anchor="end" transform="translate(46.9 185.35) scale(1.07 1)">0.3</text>
<text text-anchor="end" transform="translate(46.9 164.37) scale(1.07 1)">0.4</text>
<text text-anchor="end" transform="translate(46.9 143.39) scale(1.07 1)">0.5</text>
<text text-anchor="end" transform="translate(46.9 122.41) scale(1.07 1)">0.6</text>
<text text-anchor="end" transform="translate(46.9 101.43) scale(1.07 1)">0.7</text>
<text text-anchor="end" transform="translate(46.9 80.45) scale(1.07 1)">0.8</text>
<text text-anchor="end" transform="translate(46.9 59.46) scale(1.07 1)">0.9</text>
<text text-anchor="end" transform="translate(46.9 38.48) scale(1.07 1)">1</text>
<text text-anchor="end" transform="translate(46.9 17.5) scale(1.07 1)">1.1</text>
<text text-anchor="middle" transform="translate(119.53 259.2) scale(1.07 1)">0.1</text>
<text text-anchor="middle" transform="translate(211.98 259.2) scale(1.07 1)">1</text>
<text text-anchor="middle" transform="translate(304.44 259.2) scale(1.07 1)">10</text>
<text text-anchor="middle" transform="translate(396.9 259.2) scale(1.07 1)">100</text>
<text transform="translate(196.5 275.6) scale(1.07 1)">R<tspan dy="3.7" font-size="7.55">2</tspan><tspan dy="-3.7"> [h</tspan><tspan dy="-5.9" font-size="7.55">-</tspan><tspan dx="0.9" font-size="7.55">1</tspan><tspan dy="5.9" dx="0.3">Mpc]</tspan></text>
<text text-anchor="middle" font-size="10.2" transform="translate(11.2 129.2) rotate(-90) scale(1.06 1)">P(R &gt; R<tspan dy="3.3" font-size="8.16">2</tspan><tspan dy="-3.3">, z</tspan><tspan dy="3.3" font-size="8.16">2</tspan><tspan dy="-3.3">=0|R</tspan><tspan dy="3.3" font-size="8.16">1</tspan><tspan dy="-3.3">,z</tspan><tspan dy="3.3" font-size="8.16">1</tspan><tspan dy="-3.3">), n=-1</tspan></text>
</g>
</svg>
</body></html>
